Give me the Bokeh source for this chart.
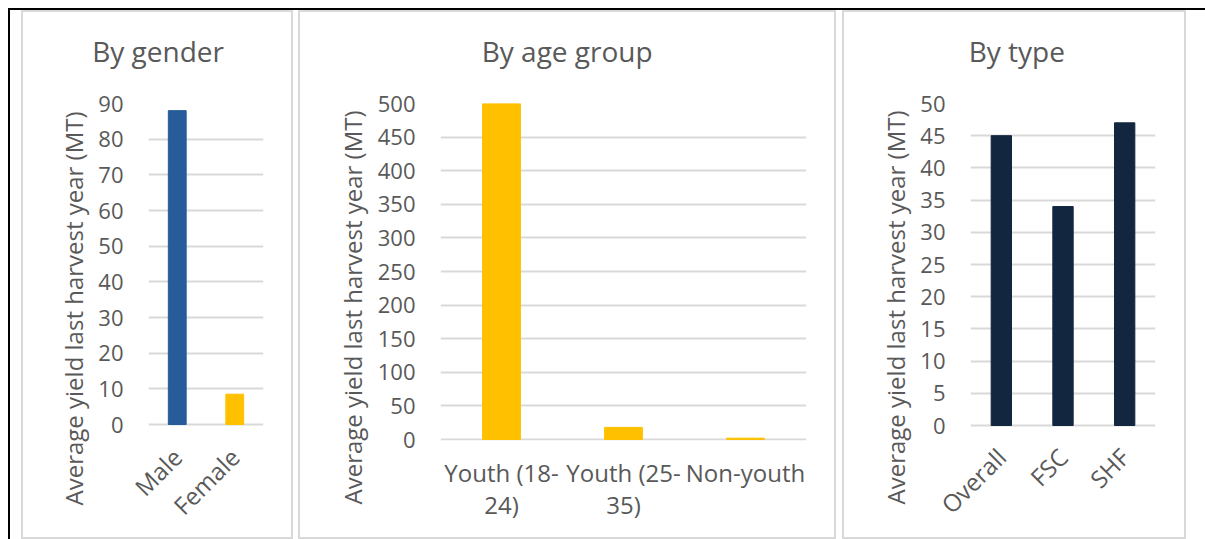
from math import pi
from bokeh.plotting import figure
from bokeh.layouts import row
from bokeh.models import (Range1d, FactorRange, FixedTicker, Title, Spacer,
                          ColumnDataSource, CategoricalAxis)
from bokeh.embed import file_html
from bokeh.resources import INLINE

# ---------------- data ----------------
gender_cats = ["Male", "Female"]
gender_vals = [88, 8.5]
gender_colors = ["#255C99", "#FFC000"]
gender_ticks = [0, 10, 20, 30, 40, 50, 60, 70, 80, 90]

age_cats = ["Youth (18-24)", "Youth (25-35)", "Non-youth"]
age_vals = [500, 18, 2]
age_colors = ["#FFC000", "#FFC000", "#FFC000"]
age_ticks = [0, 50, 100, 150, 200, 250, 300, 350, 400, 450, 500]
age_label_line1 = ["Youth (18-", "Youth (25-", "Non-youth"]
age_label_line2 = ["24)", "35)", " "]

type_cats = ["Overall", "FSC", "SHF"]
type_vals = [45, 34, 47]
type_colors = ["#12263F", "#12263F", "#12263F"]
type_ticks = [0, 5, 10, 15, 20, 25, 30, 35, 40, 45, 50]

titles = ["By gender", "By age group", "By type"]
y_label = "Average yield last harvest year (MT)"

FONT = "Open Sans"
TXT = "#595959"
GRID = "#D9D9D9"
H = 529          # panel height (border-box)
OY = 12          # canvas top on page
GTOP = 103       # page y of the top gridline (= frame top)
FBOT = 440       # frame bottom on page (all panels)


def style_axis(ax, size):
    ax.axis_line_color = None
    ax.major_tick_line_color = None
    ax.minor_tick_line_color = None
    ax.major_tick_out = 0
    ax.major_tick_in = 0
    ax.major_label_text_font = FONT
    ax.major_label_text_font_size = size
    ax.major_label_text_color = TXT


def make_panel(cats, vals, colors, ticks, title, outer_left, W, fl, fr, gz,
               bar_w, ml, title_slot, ylab_off, own_xaxis=False):
    ox = outer_left + 2
    ymax = ticks[-1]
    ppu = (gz - GTOP) / ymax
    y0 = -(FBOT - gz) / ppu
    L, R, T, B = fl - ox, ox + W - fr, GTOP - OY, OY + H - FBOT
    p = figure(width=W, height=H, x_range=FactorRange(factors=cats),
               y_range=Range1d(y0, ymax), output_backend="svg",
               toolbar_location=None, min_border_left=L, min_border_right=R,
               min_border_top=T, min_border_bottom=B, margin=(0, 0, 0, ml),
               title=None, x_axis_location=None if own_xaxis else "below",
               styles={"border": "2px solid #D9D9D9"})
    src = ColumnDataSource(dict(x=cats, top=vals, color=colors))
    p.vbar(x="x", top="top", bottom=0, width=bar_w, color="color", source=src)
    p.outline_line_color = None
    p.background_fill_color = "white"
    p.border_fill_color = "white"
    p.xgrid.visible = False
    p.ygrid.grid_line_color = GRID
    p.ygrid.grid_line_width = 2
    p.yaxis.ticker = FixedTicker(ticks=ticks)
    style_axis(p.yaxis[0], "22px")
    p.yaxis.major_label_standoff = 25
    if not own_xaxis:
        style_axis(p.xaxis[0], "24px")
        p.xaxis.major_label_orientation = pi / 4
        p.xaxis.major_label_standoff = 12

    # chart title: one labelled slot of a blank categorical axis above the frame
    k, m = title_slot
    blanks = [" " * (i + 1) for i in range(m - 1)]
    title_factors = blanks[:k] + [title] + blanks[k:]
    p.extra_x_ranges = {"title": FactorRange(factors=title_factors)}
    tax = CategoricalAxis(x_range_name="title", major_label_standoff=34)
    style_axis(tax, "28px")
    p.add_layout(tax, "above")

    p.add_layout(Title(text=y_label, align="left", offset=ylab_off, standoff=12,
                       text_font=FONT, text_font_size="24px",
                       text_font_style="normal", text_color=TXT), "left")
    return p


p1 = make_panel(gender_cats, gender_vals, gender_colors, gender_ticks, titles[0],
                outer_left=21, W=272, fl=148, fr=263, gz=424, bar_w=0.31, ml=11,
                title_slot=(0, 6), ylab_off=-65)

p2 = make_panel(age_cats, age_vals, age_colors, age_ticks, titles[1],
                outer_left=298, W=538, fl=440, fr=806, gz=439, bar_w=0.31, ml=5,
                title_slot=(4, 13), ylab_off=-64, own_xaxis=True)
p2.extra_x_ranges = {**p2.extra_x_ranges,
                     "l1": FactorRange(factors=age_label_line1),
                     "l2": FactorRange(factors=age_label_line2)}
ax1 = CategoricalAxis(x_range_name="l1", major_label_standoff=15)
ax2 = CategoricalAxis(x_range_name="l2", major_label_standoff=-4)
style_axis(ax1, "24px")
style_axis(ax2, "24px")
p2.add_layout(ax1, "below")
p2.add_layout(ax2, "below")

p3 = make_panel(type_cats, type_vals, type_colors, type_ticks, titles[2],
                outer_left=842, W=344, fl=970, fr=1155, gz=425, bar_w=0.33, ml=6,
                title_slot=(0, 2), ylab_off=-64)

root = row(p1, p2, p3, Spacer(width=19, height=H),
           styles={"position": "absolute", "left": "8px", "top": "8px",
                   "border-top": "2px solid black", "border-left": "2px solid black",
                   "background": "white"})

open("out.html", "w").write(file_html(root, INLINE))
